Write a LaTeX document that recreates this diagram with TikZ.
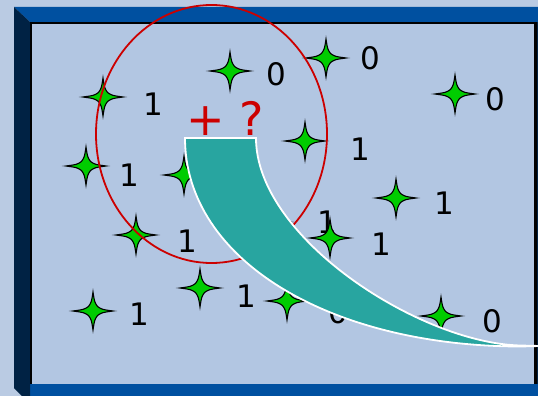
\documentclass[tikz,border=0pt]{standalone}
\usepackage{fontspec}
\newfontfamily\vera{DejaVu Sans}
\definecolor{pagebg}{RGB}{186,203,227}
\definecolor{panelbg}{RGB}{178,198,226}
\definecolor{framebar}{RGB}{0,80,160}
\definecolor{frameshade}{RGB}{0,34,68}
\definecolor{sparkgreen}{RGB}{0,204,0}
\definecolor{ringred}{RGB}{204,0,0}
\definecolor{bandteal}{RGB}{40,165,160}

\begin{document}
\begin{tikzpicture}[
    x=1pt, y=-1pt,
    num/.style={font=\vera\fontsize{31}{31}\selectfont, inner sep=0pt},
    asktext/.style={font=\vera\fontsize{46}{46}\selectfont, text=ringred, inner sep=0pt},
    ring/.style={draw=ringred, line width=1.8pt},
    band/.style={fill=bandteal, draw=white, line width=1.8pt},
    spark/.pic={\filldraw[fill=sparkgreen, draw=black, line width=1.1pt]
        (-20,0) .. controls (-9,-1.5) .. (-4.5,-4.5) .. controls (-1.5,-9) .. (0,-19)
        .. controls (1.5,-9) .. (4.5,-4.5) .. controls (9,-1.5) .. (20,0)
        .. controls (9,1.5) .. (4.5,4.5) .. controls (1.5,9) .. (0,19)
        .. controls (-1.5,9) .. (-4.5,4.5) .. controls (-9,1.5) .. cycle;},
]
\useasboundingbox (0,0) rectangle (538,396);
% frame
\fill[pagebg] (0,0) rectangle (538,396);
\fill[framebar] (14,7) -- (538,7) -- (538,22) -- (30,22) -- cycle;
\fill[framebar] (30,384) rectangle (538,396);
\fill[frameshade] (14,7) -- (30,22) -- (30,404) -- (14,388) -- cycle;
\fill[frameshade] (535,22) rectangle (538,384);
\fill[panelbg] (31,23) rectangle (535,384);
\draw[black, line width=2.5pt] (31,384) -- (31,23) -- (535.5,23) -- (535.5,384);

% sample points and their classes
\pic at (103,97)  {spark}; \node[num] (n1)  at (153,104) {1};
\pic at (230,71)  {spark}; \node[num] (n2)  at (276,74)  {0};
\pic at (326,58)  {spark}; \node[num] (n3)  at (370,58)  {0};
\pic at (455,94)  {spark}; \node[num] (n4)  at (495,99)  {0};
\pic at (305,141) {spark}; \node[num] (n5)  at (360,149) {1};
\pic at (86,166)  {spark}; \node[num] (n6)  at (129,175) {1};
\pic at (184,175) {spark};
\pic at (396,198) {spark}; \node[num] (n8)  at (444,203) {1};
\pic at (136,235) {spark}; \node[num] (n9)  at (187,241) {1};
\pic at (270,222) {spark}; \node[num] (n11) at (327,222) {1};
\pic at (330,238) {spark}; \node[num] (n10) at (381,244) {1};
\pic at (200,288) {spark}; \node[num] (n12) at (246,296) {1};
\pic at (287,301) {spark}; \node[num] (n13) at (338,312) {0};
\pic at (93,311)  {spark}; \node[num] (n14) at (139,314) {1};
\pic at (441,316) {spark}; \node[num] (n15) at (492,321) {0};

% neighbourhood of the new point
\draw[ring] (211.5,134) ellipse [x radius=115.5, y radius=129];
\node[asktext, anchor=base] (ask) at (225,135) {+ ?};

% the arrow band over everything
\draw[band] (185,138) -- (256,138)
    .. controls (256,238) and (420,343) .. (520,345.5) -- (540,346)
    -- (520,346.5) .. controls (330,346) and (185,260) .. cycle;
\end{tikzpicture}
\end{document}
